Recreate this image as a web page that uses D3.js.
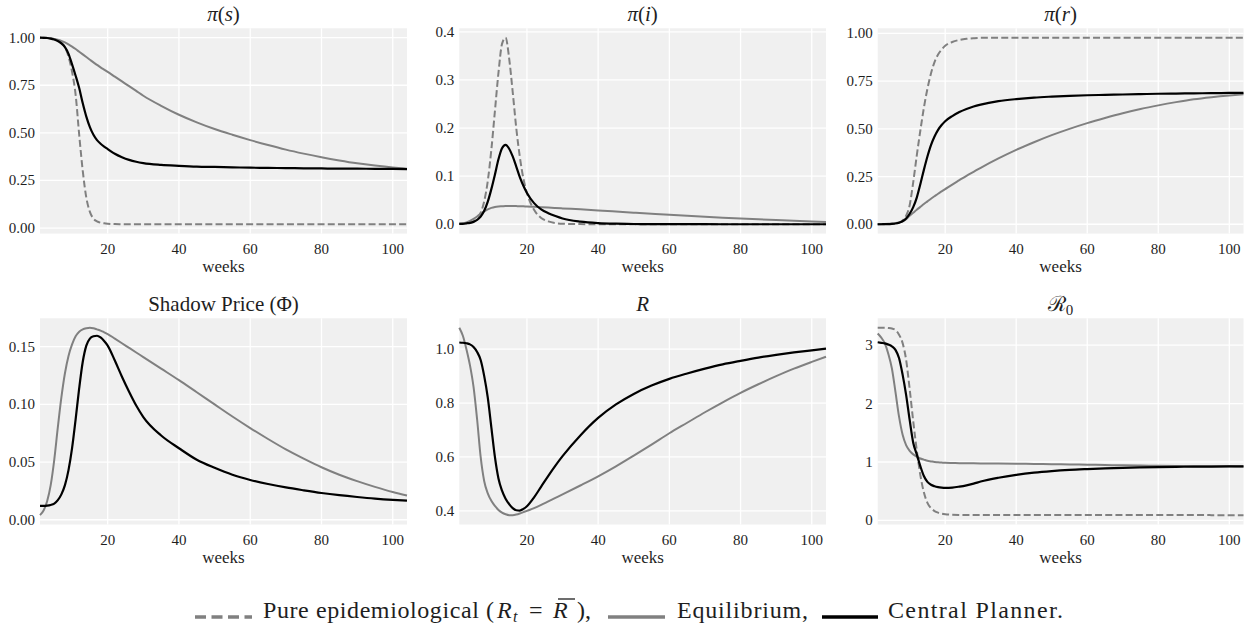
<!DOCTYPE html>
<html><head><meta charset="utf-8">
<script src="https://cdn.jsdelivr.net/npm/d3@7"></script>
<style>body{margin:0;background:#fff}</style>
</head><body>
<svg id="c" width="1252" height="631"></svg>
<script>
// ---------- data ----------
const weeks = [1,2,3,4,5,6,7,8,9,10,11,12,13,14,15,16,17,18,19,20,22,24,26,28,30,35,40,45,50,55,60,65,70,75,80,85,90,95,100,104];

const sPure = [1.0,1.0,0.999,0.997,0.993,0.985,0.975,0.95,0.90,0.82,0.70,0.49,0.30,0.16,0.085,0.05,0.035,0.028,0.025,0.023, 0.021,0.0205,0.02,0.02,0.02, 0.02,0.02,0.02,0.02,0.02,0.02,0.02,0.02,0.02,0.02,0.02,0.02,0.02,0.02, 0.02];
const sEq   = [1.0,0.999,0.998,0.996,0.993,0.989,0.983,0.975,0.965,0.953,0.94,0.926,0.912,0.898,0.884,0.87,0.857,0.844,0.832,0.82, 0.795,0.77,0.745,0.72,0.695, 0.642,0.595,0.555,0.52,0.49,0.462,0.436,0.412,0.391,0.372,0.355,0.34,0.328,0.318, 0.312];
const sCP   = [1.0,0.999,0.998,0.995,0.99,0.982,0.97,0.95,0.915,0.86,0.80,0.735,0.655,0.585,0.53,0.49,0.462,0.443,0.428,0.415, 0.39,0.372,0.358,0.348,0.341, 0.332,0.327,0.323,0.321,0.319,0.317,0.316,0.315,0.314,0.313,0.312,0.312,0.311,0.311, 0.31];

const iPure = [0.001,0.001,0.002,0.003,0.006,0.012,0.024,0.048,0.09,0.155,0.235,0.315,0.375,0.388,0.345,0.275,0.2,0.14,0.095,0.065, 0.03,0.013,0.006,0.0025,0.001, 0.0003,0.0001,0,0,0,0,0,0,0,0,0,0,0,0, 0];
const iEq   = [0.001,0.002,0.004,0.007,0.011,0.016,0.022,0.027,0.031,0.034,0.036,0.037,0.0375,0.038,0.038,0.038,0.0378,0.0375,0.0372,0.037, 0.0362,0.0355,0.0347,0.0339,0.033, 0.031,0.0288,0.0265,0.0242,0.022,0.0198,0.0177,0.0157,0.0138,0.012,0.0103,0.0087,0.0072,0.0058, 0.0048];
const iCP   = [0.001,0.001,0.002,0.003,0.005,0.009,0.016,0.028,0.047,0.073,0.103,0.135,0.158,0.165,0.157,0.141,0.12,0.098,0.08,0.065, 0.044,0.031,0.023,0.017,0.012, 0.0055,0.0025,0.0012,0.0006,0.0003,0.0002,0.0001,0.0001,0,0,0,0,0,0, 0];

const rPure = [0,0,0.0005,0.001,0.002,0.004,0.009,0.02,0.045,0.1,0.22,0.36,0.49,0.61,0.71,0.79,0.85,0.89,0.915,0.935, 0.955,0.966,0.972,0.975,0.977, 0.978,0.978,0.978,0.978,0.978,0.978,0.978,0.978,0.978,0.978,0.978,0.978,0.978,0.978, 0.978];
const rEq   = [0,0.001,0.002,0.003,0.004,0.006,0.009,0.015,0.027,0.045,0.06,0.076,0.091,0.106,0.12,0.134,0.147,0.16,0.172,0.184, 0.208,0.231,0.254,0.275,0.296, 0.345,0.39,0.43,0.467,0.5,0.53,0.557,0.582,0.604,0.623,0.64,0.655,0.666,0.675, 0.681];
const rCP   = [0,0,0.001,0.001,0.002,0.004,0.008,0.016,0.03,0.055,0.09,0.14,0.21,0.285,0.355,0.415,0.46,0.495,0.52,0.54, 0.567,0.588,0.604,0.617,0.627, 0.645,0.656,0.664,0.669,0.673,0.676,0.678,0.68,0.682,0.684,0.685,0.686,0.687,0.688, 0.689];

const phiEq = [0.004,0.008,0.016,0.03,0.052,0.08,0.106,0.127,0.142,0.152,0.159,0.163,0.165,0.166,0.1665,0.166,0.165,0.164,0.1625,0.161, 0.157,0.153,0.149,0.145,0.141, 0.131,0.121,0.1105,0.1,0.0895,0.0795,0.07,0.061,0.053,0.0455,0.039,0.0335,0.0285,0.024, 0.021];
const phiCP = [0.012,0.012,0.0122,0.0128,0.014,0.017,0.022,0.03,0.043,0.062,0.087,0.114,0.137,0.151,0.157,0.159,0.1595,0.158,0.155,0.151, 0.138,0.124,0.111,0.099,0.089, 0.073,0.062,0.052,0.045,0.039,0.0345,0.031,0.028,0.0255,0.0232,0.0213,0.0197,0.0183,0.0172, 0.0165];

const REq = [1.08,1.05,1.0,0.94,0.86,0.74,0.6,0.51,0.465,0.437,0.418,0.403,0.393,0.387,0.384,0.384,0.386,0.39,0.395,0.4, 0.41,0.422,0.435,0.448,0.461, 0.494,0.528,0.565,0.605,0.646,0.688,0.727,0.766,0.803,0.838,0.87,0.9,0.928,0.953, 0.972];
const RCP = [1.025,1.024,1.022,1.018,1.008,0.99,0.96,0.9,0.82,0.71,0.6,0.52,0.475,0.445,0.425,0.41,0.402,0.401,0.407,0.417, 0.45,0.49,0.53,0.568,0.603, 0.68,0.745,0.795,0.834,0.865,0.89,0.91,0.928,0.944,0.957,0.969,0.979,0.988,0.996, 1.002];

const R0Pure = [3.3,3.3,3.3,3.295,3.285,3.26,3.18,3.04,2.75,2.25,1.7,1.2,0.78,0.48,0.3,0.21,0.16,0.132,0.115,0.105, 0.097,0.094,0.093,0.092,0.092, 0.092,0.092,0.092,0.092,0.092,0.092,0.091,0.091,0.091,0.091,0.091,0.091,0.09,0.09, 0.09];
const R0Eq   = [3.2,3.13,3.03,2.85,2.6,2.2,1.78,1.47,1.29,1.19,1.13,1.09,1.06,1.04,1.02,1.01,1.0,0.995,0.99,0.985, 0.982,0.98,0.979,0.977,0.976, 0.974,0.971,0.967,0.963,0.958,0.953,0.948,0.943,0.939,0.935,0.932,0.929,0.927,0.925, 0.924];
const R0CP   = [3.05,3.04,3.03,3.01,2.98,2.92,2.78,2.5,2.15,1.72,1.33,1.13,0.93,0.76,0.66,0.61,0.585,0.57,0.562,0.558, 0.562,0.578,0.6,0.63,0.665, 0.73,0.78,0.818,0.845,0.865,0.879,0.891,0.9,0.907,0.913,0.917,0.92,0.922,0.924, 0.925];

const xTicks = [20,40,60,80,100];
const yTicksS = [0,0.25,0.5,0.75,1.0];
const yTicksI = [0,0.1,0.2,0.3,0.4];
const yTicksR = [0,0.25,0.5,0.75,1.0];
const yTicksPhi = [0,0.05,0.10,0.15];
const yTicksRt = [0.4,0.6,0.8,1.0];
const yTicksR0 = [0,1,2,3];

const legendLabels = ["Pure epidemiological (", "Equilibrium,", "Central Planner."];

// ---------- styles / layout ----------
const FONT = "Liberation Serif, Times New Roman, serif";
const INK = "#1e1e1e";
const GREY = "#808080";
const lineStyle = {
  pure: {stroke: GREY, width: 2, dash: "7,3.2"},
  eq:   {stroke: GREY, width: 2, dash: null},
  cp:   {stroke: "#000", width: 2.2, dash: null}
};

const panels = [
  {title: [["π","i"],["(",""],["s","i"],[")",""]], ticks: yTicksS, fmt: ".2f",
   series: [["pure", sPure], ["eq", sEq], ["cp", sCP]]},
  {title: [["π","i"],["(",""],["i","i"],[")",""]], ticks: yTicksI, fmt: ".1f",
   series: [["pure", iPure], ["eq", iEq], ["cp", iCP]]},
  {title: [["π","i"],["(",""],["r","i"],[")",""]], ticks: yTicksR, fmt: ".2f",
   series: [["pure", rPure], ["eq", rEq], ["cp", rCP]]},
  {title: [["Shadow Price (Φ)",""]], ticks: yTicksPhi, fmt: ".2f",
   series: [["eq", phiEq], ["cp", phiCP]]},
  {title: [["R","i"]], ticks: yTicksRt, fmt: ".1f",
   series: [["eq", REq], ["cp", RCP]]},
  {title: [["ℛ",""],["0","sub"]], ticks: yTicksR0, fmt: "d",
   series: [["pure", R0Pure], ["eq", R0Eq], ["cp", R0CP]]}
];

const X0 = [40, 459.3, 877.7], X1 = [407, 826, 1243.5];
const Y0 = [28.3, 318.3], Y1 = [233.6, 524.5];

const svg = d3.select("#c");

function txt(parent, x, y, size) {
  return parent.append("text").attr("x", x).attr("y", y)
    .attr("font-family", FONT).attr("font-size", size).attr("fill", INK);
}

panels.forEach((p, k) => {
  const col = k % 3, row = Math.floor(k / 3);
  const x0 = X0[col], x1 = X1[col], y0 = Y0[row], y1 = Y1[row];
  const x = d3.scaleLinear().domain([1, 104]).range([x0, x1]);
  const all = p.series.flatMap(s => s[1]);
  const [mn, mx] = d3.extent(all);
  const pad = (mx - mn) * 0.05;
  const y = d3.scaleLinear().domain([mn - pad, mx + pad]).range([y1, y0]);

  const g = svg.append("g");
  g.append("rect").attr("x", x0).attr("y", y0).attr("width", x1 - x0).attr("height", y1 - y0)
    .attr("fill", "#f0f0f0");

  g.append("g").selectAll("line").data(xTicks).join("line")
    .attr("x1", d => x(d)).attr("x2", d => x(d)).attr("y1", y0).attr("y2", y1)
    .attr("stroke", "#fff").attr("stroke-width", 1.3);
  g.append("g").selectAll("line").data(p.ticks).join("line")
    .attr("x1", x0).attr("x2", x1).attr("y1", d => y(d)).attr("y2", d => y(d))
    .attr("stroke", "#fff").attr("stroke-width", 1.3);

  const fx = d3.format("d"), fy = d3.format(p.fmt);
  xTicks.forEach(d => txt(g, x(d), y1 + 20, 15).attr("text-anchor", "middle").text(fx(d)));
  p.ticks.forEach(d => txt(g, x0 - 5, y(d) + 5, 15).attr("text-anchor", "end").text(fy(d)));

  const line = d3.line().x((d, i) => x(weeks[i])).y(d => y(d)).curve(d3.curveMonotoneX);
  const lg = g.append("g");
  p.series.forEach(([key, vals]) => {
    const st = lineStyle[key];
    lg.append("path").attr("d", line(vals)).attr("fill", "none")
      .attr("stroke", st.stroke).attr("stroke-width", st.width)
      .attr("stroke-dasharray", st.dash).attr("stroke-linejoin", "round");
  });

  const t = txt(g, (x0 + x1) / 2, y0 - 7, 21).attr("text-anchor", "middle");
  p.title.forEach(([s, f]) => {
    const ts = t.append("tspan").text(s);
    if (f === "i") ts.attr("font-style", "italic");
    if (f === "sub") ts.attr("font-size", 15).attr("dy", 4);
  });
  txt(g, (x0 + x1) / 2, y1 + 38, 17).attr("text-anchor", "middle").text("weeks");
});

// ---------- legend ----------
const LY = 618;
const leg = svg.append("g");
function handle(xa, xb, st) {
  leg.append("line").attr("x1", xa).attr("x2", xb).attr("y1", LY - 1).attr("y2", LY - 1)
    .attr("stroke", st.stroke).attr("stroke-width", 3.6)
    .attr("stroke-dasharray", st.dash ? "11,5.5" : null);
}
handle(195, 252, lineStyle.pure);
txt(leg, 263, LY, 24).attr("textLength", 231).attr("lengthAdjust", "spacing").text(legendLabels[0]);
txt(leg, 497, LY, 24).attr("font-style", "italic").text("R");
txt(leg, 513, LY + 4, 16).attr("font-style", "italic").text("t");
txt(leg, 529, LY, 24).text("=");
txt(leg, 553, LY, 24).attr("font-style", "italic").text("R");
leg.append("line").attr("x1", 558).attr("x2", 575).attr("y1", LY - 19).attr("y2", LY - 19)
  .attr("stroke", INK).attr("stroke-width", 1.3);
txt(leg, 577, LY, 24).text("),");
handle(608, 665, lineStyle.eq);
txt(leg, 677, LY, 24).attr("textLength", 131).attr("lengthAdjust", "spacing").text(legendLabels[1]);
handle(822, 878, lineStyle.cp);
txt(leg, 888, LY, 24).attr("textLength", 175).attr("lengthAdjust", "spacing").text(legendLabels[2]);
</script>
</body></html>
